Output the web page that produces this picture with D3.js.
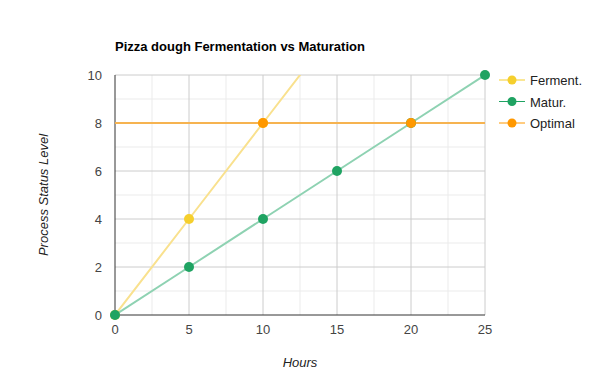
<!DOCTYPE html>
<html><head><meta charset="utf-8">
<script src="https://cdn.jsdelivr.net/npm/d3@7"></script>
<style>body{margin:0;background:#fff;font-family:Arial,"Liberation Sans",sans-serif;}</style>
</head><body>
<svg id="c" width="600" height="390"></svg>
<script>
const title = "Pizza dough Fermentation vs Maturation";
const xLabel = "Hours";
const yLabel = "Process Status Level";
const xTicks = [0, 5, 10, 15, 20, 25];
const yTicks = [0, 2, 4, 6, 8, 10];
const fermentX = [0, 5, 10, 15];
const fermentY = [0, 4, 8, 12];
const maturX = [0, 5, 10, 15, 20, 25];
const maturY = [0, 2, 4, 6, 8, 10];
const optimalX = [0, 25];
const optimalY = [8, 8];
const optimalMarkX = [10, 20];
const optimalMarkY = [8, 8];
const seriesNames = ["Ferment.", "Matur.", "Optimal"];
const markerColors = ["#f5cf2d", "#1fa362", "#ff9800"];
const lineColors = ["#f9e18e", "#8ed2b2", "#f6b350"];

const svg = d3.select("#c");
const m = {l:115, r:485, t:75, b:315};
const x = d3.scaleLinear().domain([0,25]).range([m.l, m.r]);
const y = d3.scaleLinear().domain([0,10]).range([m.b, m.t]);

// minor grid
const g = svg.append("g");
g.selectAll(".mx").data(d3.range(2.5, 25, 5)).enter().append("line")
  .attr("x1", d=>x(d)).attr("x2", d=>x(d)).attr("y1", m.t).attr("y2", m.b)
  .attr("stroke", "#ebebeb").attr("stroke-width", 1);
g.selectAll(".my").data(d3.range(1, 10, 2)).enter().append("line")
  .attr("y1", d=>y(d)).attr("y2", d=>y(d)).attr("x1", m.l).attr("x2", m.r)
  .attr("stroke", "#ebebeb").attr("stroke-width", 1);
// major grid
g.selectAll(".Mx").data(xTicks.slice(1)).enter().append("line")
  .attr("x1", d=>x(d)).attr("x2", d=>x(d)).attr("y1", m.t).attr("y2", m.b)
  .attr("stroke", "#cccccc").attr("stroke-width", 1);
g.selectAll(".My").data(yTicks.slice(1)).enter().append("line")
  .attr("y1", d=>y(d)).attr("y2", d=>y(d)).attr("x1", m.l).attr("x2", m.r)
  .attr("stroke", "#cccccc").attr("stroke-width", 1);

// axes lines
svg.append("line").attr("x1", m.l).attr("x2", m.l).attr("y1", m.t).attr("y2", m.b).attr("stroke", "#333").attr("stroke-width", 1);
svg.append("line").attr("x1", m.l).attr("x2", m.r).attr("y1", m.b).attr("y2", m.b).attr("stroke", "#333").attr("stroke-width", 1);

// tick labels
svg.selectAll(".xt").data(xTicks).enter().append("text")
  .attr("x", d=>x(d)).attr("y", m.b + 19).attr("text-anchor", "middle")
  .attr("font-size", 13).attr("fill", "#444").text(d=>d);
svg.selectAll(".yt").data(yTicks).enter().append("text")
  .attr("x", m.l - 13).attr("y", d=>y(d) + 5).attr("text-anchor", "end")
  .attr("font-size", 13).attr("fill", "#444").text(d=>d);

// titles
svg.append("text").attr("x", m.l).attr("y", 51).attr("font-size", 13).attr("font-weight", "bold").attr("fill", "#000").text(title);
svg.append("text").attr("x", (m.l+m.r)/2).attr("y", 367).attr("text-anchor", "middle").attr("font-size", 13).attr("font-style", "italic").attr("fill", "#222").text(xLabel);
svg.append("text").attr("transform", `translate(48,${(m.t+m.b)/2}) rotate(-90)`).attr("text-anchor", "middle").attr("font-size", 13).attr("font-style", "italic").attr("fill", "#222").text(yLabel);

// clip
svg.append("clipPath").attr("id", "clip").append("rect").attr("x", m.l - 6).attr("y", m.t - 6).attr("width", m.r - m.l + 12).attr("height", m.b - m.t + 12);
svg.append("clipPath").attr("id", "clipL").append("rect").attr("x", m.l).attr("y", m.t).attr("width", m.r - m.l).attr("height", m.b - m.t);

const line = d3.line().x(d=>x(d[0])).y(d=>y(d[1]));
const series = [
  {pts: d3.zip(fermentX, fermentY), marks: d3.zip(fermentX, fermentY)},
  {pts: d3.zip(maturX, maturY), marks: d3.zip(maturX, maturY)},
  {pts: d3.zip(optimalX, optimalY), marks: d3.zip(optimalMarkX, optimalMarkY)}
];
const plot = svg.append("g");
series.forEach((s, i) => {
  plot.append("path").datum(s.pts).attr("d", line).attr("fill", "none")
    .attr("stroke", lineColors[i]).attr("stroke-width", 2).attr("clip-path", "url(#clipL)");
});
[0, 1, 2].forEach(i => {
  plot.selectAll(null).data(series[i].marks.filter(d => d[1] <= 10)).enter().append("circle")
    .attr("cx", d=>x(d[0])).attr("cy", d=>y(d[1])).attr("r", 5)
    .attr("fill", markerColors[i]).attr("clip-path", "url(#clip)");
});

// legend
const lg = svg.append("g");
seriesNames.forEach((n, i) => {
  const ly = 80 + i * 21.5;
  lg.append("line").attr("x1", 499).attr("x2", 525).attr("y1", ly).attr("y2", ly).attr("stroke", markerColors[i]).attr("stroke-width", 1);
  lg.append("circle").attr("cx", 512).attr("cy", ly).attr("r", 4.5).attr("fill", markerColors[i]);
  lg.append("text").attr("x", 530).attr("y", ly + 5).attr("font-size", 13).attr("fill", "#222").text(n);
});
</script>
</body></html>
